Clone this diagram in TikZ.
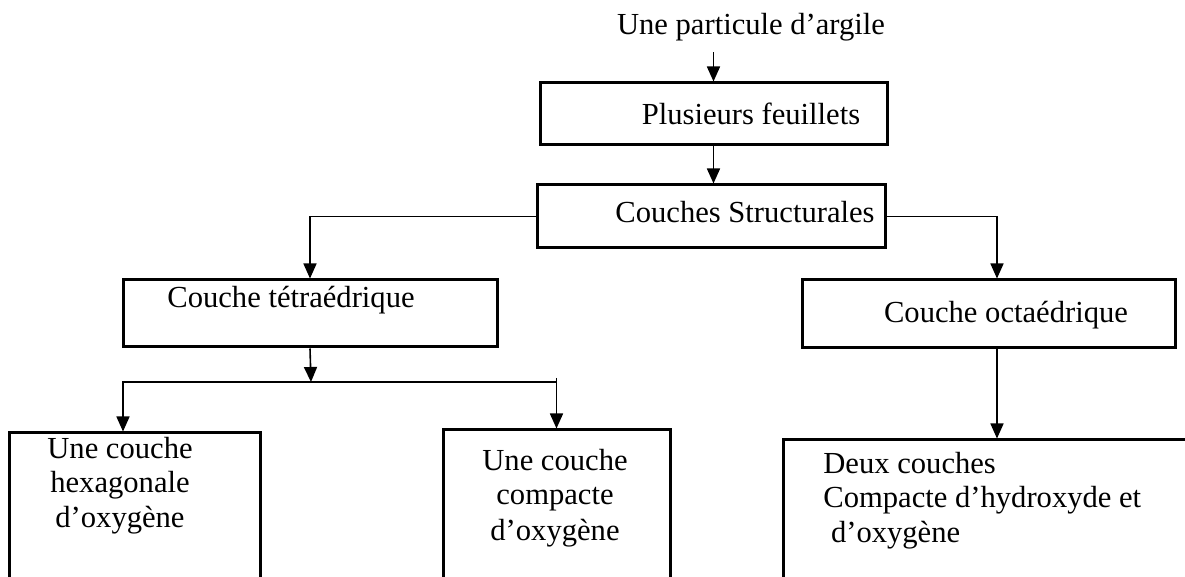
\documentclass[tikz,border=0pt]{standalone}
\usepackage{fontspec}
\setmainfont{Liberation Serif}
\usetikzlibrary{arrows.meta, positioning, calc}
\tikzset{
  box/.style={draw, line width=1.5pt, fill=white, inner sep=0pt},
  txt/.style={anchor=base, inner sep=0pt, font=\fontsize{15.3}{17.5}\selectfont},
  arr/.style={-{Triangle[length=7.5pt, width=6.5pt]}, line width=0.8pt},
  ln/.style={line width=0.8pt},
}

\begin{document}
\begin{tikzpicture}[x=0.5pt, y=-0.5pt]
    \useasboundingbox (0,0) rectangle (1185,577);
    % boxes
    \node[box, minimum width=173.5pt, minimum height=31pt] (feuil) at (713.5,114) {};
    \node[box, minimum width=174pt, minimum height=31.5pt] (struct) at (711,216.5) {};
    \node[box, minimum width=187pt, minimum height=33.5pt] (tetra) at (310,313.5) {};
    \node[box, minimum width=186.5pt, minimum height=34pt] (octa) at (988.5,314) {};
    \node[box, minimum width=125.5pt, minimum height=83.5pt] (hexa) at (134.5,516.5) {};
    \node[box, minimum width=113.5pt, minimum height=85pt] (compa) at (556.5,515) {};
    \node[box, minimum width=218.5pt, minimum height=80pt] (deux) at (1001.5,520) {};
    % texts (multi-line: base = last line)
    \node[txt] (title) at (751,35) {Une particule d’argile};
    \node[txt] (feuil-t) at (751,125) {Plusieurs feuillets};
    \node[txt] (struct-t) at (745,223) {Couches Structurales};
    \node[txt] (tetra-t) at (291,308) {Couche tétraédrique};
    \node[txt] (octa-t) at (1006,323) {Couche octaédrique};
    \node[txt, align=center] (hexa-t) at (120,528) {Une couche\\ hexagonale\\d’oxygène};
    \node[txt, align=center] (compa-t) at (555,540) {Une couche\\compacte\\d’oxygène};
    \node[txt, align=left, anchor=base west] (deux-t) at (823,543) {Deux couches\\Compacte d’hydroxyde et\\ \ d’oxygène};
    % connectors
    \coordinate (split) at (311,382);
    \draw[arr] ([yshift=-5pt]title.south -| feuil.north) -- (feuil.north);
    \draw[arr] (feuil.south) -- (feuil.south |- struct.north);
    \draw[arr] (struct.west) -| (tetra.north);
    \draw[arr] (struct.east) -| ([xshift=4.25pt]octa.north);
    \draw[arr] ([xshift=4.25pt]octa.south) -- ([xshift=4.25pt]octa.south |- deux.north);
    \draw[arr] (tetra.south) -- (split);
    \draw[arr] (split) -| ([xshift=-5.75pt]hexa.north);
    \draw[ln] (split) -- (split -| compa.north);
    \draw[arr] ([yshift=2pt]split -| compa.north) -- (compa.north);
  \end{tikzpicture}
\end{document}
